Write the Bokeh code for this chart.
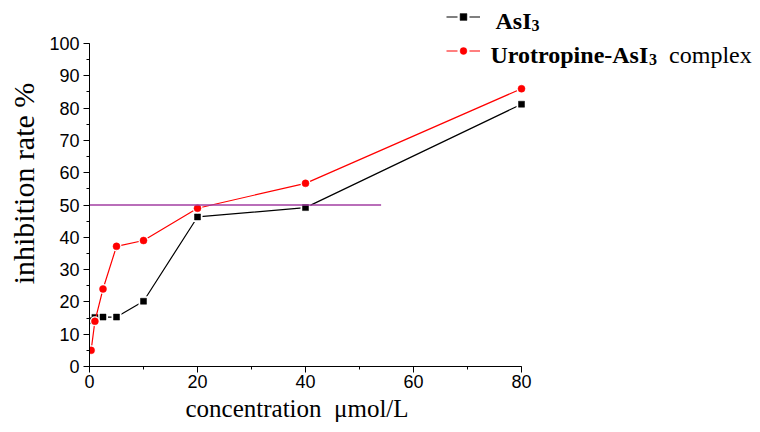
from bokeh.plotting import figure
from bokeh.models import (ColumnDataSource, Range1d, SingleIntervalTicker, Legend,
                          LegendItem, Label, Title)
from bokeh.embed import file_html
from bokeh.resources import INLINE

# ---- data ----
concentration = [0.3, 1.0, 2.5, 5.0, 10.0, 20.0, 40.0, 80.0]
asi3_rate = [14.2, 15.2, 15.3, 15.3, 20.2, 46.3, 49.2, 81.2]
complex_rate = [5.0, 14.0, 24.0, 37.2, 39.0, 49.0, 56.7, 86.0]
threshold_x = [0.0, 54.0]
threshold_y = [50.0, 50.0]
x_ticks_interval = 20
y_ticks_interval = 10

W, H = 760, 432
LEFT, BOTTOM = 89, 66
FRAME_W = W - LEFT
FRAME_H = H - BOTTOM
X80_PX = 521 - LEFT      # pixel distance of x=80 from frame left
Y100_PX = 366 - 43       # pixel distance of y=100 from frame bottom

src = ColumnDataSource(dict(x=concentration, a=asi3_rate, c=complex_rate))
key_src = ColumnDataSource(dict(x=[float("nan")], y=[float("nan")]))

p = figure(width=W, height=H, output_backend="svg", toolbar_location=None,
           x_range=Range1d(0, 80 * FRAME_W / X80_PX),
           y_range=Range1d(0, 100 * FRAME_H / Y100_PX),
           min_border_left=LEFT, min_border_right=0, min_border_top=0,
           min_border_bottom=BOTTOM)
p.outline_line_color = None
p.grid.visible = False
p.background_fill_color = "white"
p.border_fill_color = "white"

# axes
p.xaxis.ticker = SingleIntervalTicker(interval=x_ticks_interval, num_minor_ticks=2)
p.yaxis.ticker = SingleIntervalTicker(interval=y_ticks_interval, num_minor_ticks=2)
p.xaxis.bounds = (0, 80)
p.yaxis.bounds = (0, 100)
for ax in (p.xaxis, p.yaxis):
    ax.axis_line_color = "black"
    ax.axis_line_width = 1
    ax.major_tick_line_color = "black"
    ax.minor_tick_line_color = "black"
    ax.major_tick_out = 6
    ax.major_tick_in = 0
    ax.minor_tick_out = 3
    ax.minor_tick_in = 0
    ax.major_label_text_font = "Liberation Sans"
    ax.major_label_text_font_size = "18px"
    ax.major_label_text_color = "black"
    ax.axis_label_text_font = "Liberation Serif"
    ax.axis_label_text_font_style = "normal"
    ax.axis_label_text_color = "black"

p.xaxis.major_label_standoff = 2
p.yaxis.axis_label = "inhibition rate %"
p.yaxis.axis_label_text_font_size = "30px"
p.yaxis.major_label_standoff = 4
p.yaxis.axis_label_standoff = 6

# x-axis title, placed under the 0..80 span
p.add_layout(Title(text="concentration \u00a0\u03bcmol/L", align="left", offset=96,
                   text_font="Liberation Serif", text_font_size="25px",
                   text_font_style="normal", text_color="black", standoff=4),
             "below")

# series: AsI3 (black squares)
p.line("x", "a", source=src, line_color="black", line_width=1.2)
p.scatter("x", "a", source=src, marker="square", size=10, fill_color="white",
          line_color=None)
r_a = p.scatter("x", "a", source=src, marker="square", size=6, fill_color="black",
                line_color="black", line_width=0.5)

# series: Urotropine-AsI3 complex (red circles)
p.line("x", "c", source=src, line_color="#ff0000", line_width=1.2)
p.scatter("x", "c", source=src, marker="circle", size=10, fill_color="white",
          line_color=None)
r_c = p.scatter("x", "c", source=src, marker="circle", size=7, fill_color="#ff0000",
                line_color="#ff0000", line_width=0.5)

# 50 % line
p.line(threshold_x, threshold_y, line_color="#a23ea2", line_width=1.5)

# legend keys (line with gap around marker)
lk_a = p.line("x", "y", source=key_src, line_color="black", line_width=1.2,
              line_dash="11 12")
lk_c = p.line("x", "y", source=key_src, line_color="#ff0000", line_width=1.2,
              line_dash="11 12")
legend = Legend(items=[LegendItem(label=" ", renderers=[lk_a, r_a]),
                       LegendItem(label=" ", renderers=[lk_c, r_c])],
                location=(446 - LEFT, FRAME_H - 59),
                glyph_width=34, glyph_height=17, label_height=17, spacing=17,
                padding=0, margin=0, border_line_color=None,
                background_fill_alpha=0, label_text_font_size="10px")
p.add_layout(legend)

def lab(x, y, text, size, style):
    p.add_layout(Label(x=x - LEFT, y=FRAME_H - y, x_units="screen", y_units="screen",
                       text=text, text_font="Liberation Serif",
                       text_font_size=size, text_font_style=style,
                       text_color="black", text_align="left",
                       text_baseline="alphabetic"))

lab(495, 20, "AsI", "24px", "bold")
lab(531, 25, "3", "16px", "bold")
lab(490, 54, "Urotropine-AsI", "24px", "bold")
lab(648.6, 59, "3", "16px", "bold")
lab(668.6, 54, "complex", "24px", "normal")

open("out.html", "w").write(file_html(p, INLINE))
